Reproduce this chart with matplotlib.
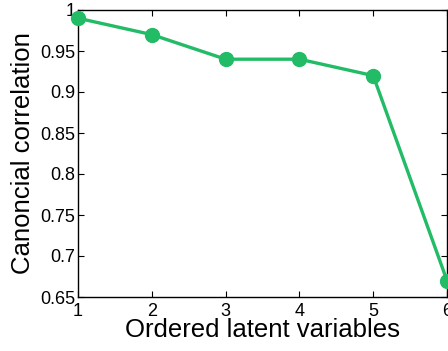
import matplotlib
matplotlib.use("Agg")
import matplotlib.pyplot as plt

plt.rcParams['font.family'] = ['Liberation Sans', 'DejaVu Sans']

latent_index = [1, 2, 3, 4, 5, 6]
canonical_corr = [0.99, 0.97, 0.94, 0.94, 0.92, 0.67]
x_ticks = [1, 2, 3, 4, 5, 6]
y_ticks = [0.65, 0.7, 0.75, 0.8, 0.85, 0.9, 0.95, 1]
y_tick_labels = ['0.65', '0.7', '0.75', '0.8', '0.85', '0.9', '0.95', '1']

fig = plt.figure(figsize=(4.48, 3.51), dpi=100)
ax = fig.add_axes([78/448, 1 - 297/351, (447 - 78)/448, (297 - 10)/351])

ax.plot(latent_index, canonical_corr, color='#22bb66', linewidth=2.4,
        marker='o', markersize=10, clip_on=False, zorder=3)

ax.set_xlim(1, 6)
ax.set_ylim(0.65, 1)
ax.set_xticks(x_ticks)
ax.set_yticks(y_ticks)
ax.set_yticklabels(y_tick_labels)
ax.tick_params(direction='in', top=True, right=True, labelsize=13,
               length=4, width=0.8, pad=2)
ax.tick_params(axis='x', pad=4)
for s in ax.spines.values():
    s.set_linewidth(1.0)

ax.set_xlabel('Ordered latent variables', fontsize=18.5, labelpad=-1)
ax.set_ylabel('Canoncial correlation', fontsize=18.5, labelpad=4)

fig.savefig('out.png', dpi=100)
